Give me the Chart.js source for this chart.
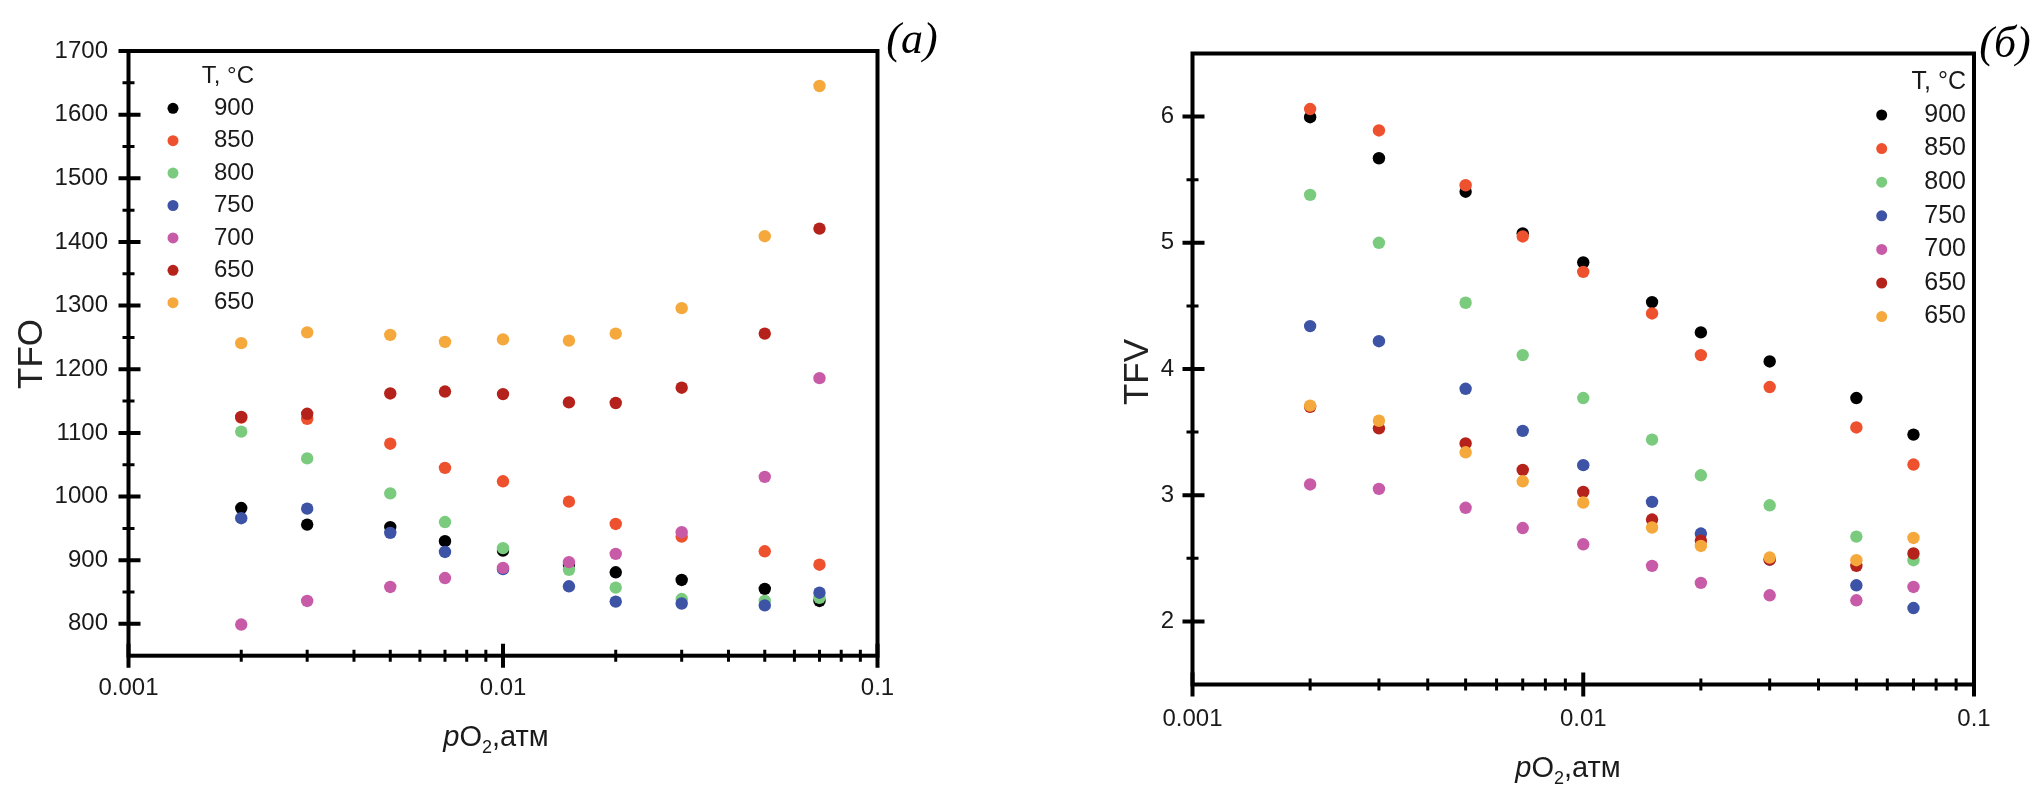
<!DOCTYPE html>
<html>
<head>
<meta charset="utf-8">
<script src="https://cdn.jsdelivr.net/npm/chart.js@4.4.1/dist/chart.umd.min.js"></script>
<style>
  html, body { margin: 0; padding: 0; background: #fff; }
  #wrap { position: relative; width: 2036px; height: 804px; }
  canvas { position: absolute; top: 0; }
  #left { left: 0; }
  #right { left: 1000px; }
</style>
</head>
<body>
<div id="wrap">
  <canvas id="left" width="1000" height="804"></canvas>
  <canvas id="right" width="1036" height="804"></canvas>
</div>
<script>
// x values, atm
const pO2 = [0.002, 0.003, 0.005, 0.007, 0.01, 0.015, 0.02, 0.03, 0.05, 0.07];
const seriesLabels = ['900', '850', '800', '750', '700', '650', '650'];
const seriesColors = ['#000000', '#ee512e', '#7bcb7f', '#3d53a6', '#c85ba8', '#b4221b', '#f5a83b'];

// (а) TFO
const tfo900 = [982, 956, 952, 930, 915, 893, 881, 869, 855, 836];
const tfo850 = [1124, 1122, 1083, 1045, 1024, 992, 957, 937, 914, 893];
const tfo800 = [1102, 1060, 1005, 960, 919, 885, 857, 839, 836, 841];
const tfo750 = [966, 981, 943, 913, 886, 859, 835, 832, 829, 849];
const tfo700 = [799, 836, 858, 872, 888, 897, 910, 944, 1031, 1186];
const tfo650 = [1125, 1130, 1162, 1165, 1161, 1148, 1147, 1171, 1256, 1421];
const tfo650b = [1241, 1258, 1254, 1243, 1247, 1245, 1256, 1296, 1409, 1645];

// (б) TFV
const tfv900 = [5.995, 5.67, 5.405, 5.075, 4.845, 4.53, 4.29, 4.06, 3.77, 3.48];
const tfv850 = [6.06, 5.89, 5.456, 5.05, 4.77, 4.44, 4.11, 3.857, 3.537, 3.243];
const tfv800 = [5.38, 5.0, 4.525, 4.11, 3.77, 3.44, 3.158, 2.92, 2.672, 2.485];
const tfv750 = [4.34, 4.22, 3.843, 3.51, 3.238, 2.947, 2.696, 2.49, 2.286, 2.106];
const tfv700 = [3.085, 3.05, 2.9, 2.74, 2.611, 2.44, 2.305, 2.207, 2.167, 2.273];
const tfv650 = [3.7, 3.53, 3.41, 3.2, 3.026, 2.807, 2.64, 2.49, 2.44, 2.538];
const tfv650b = [3.71, 3.59, 3.34, 3.11, 2.942, 2.744, 2.598, 2.506, 2.485, 2.661];

// axis ticks
const xTicks = [0.001, 0.01, 0.1];
const xMinor = [2, 3, 4, 5, 6, 7, 8, 9].flatMap(m => [m * 0.001, m * 0.01]);
const tfoTicks = [800, 900, 1000, 1100, 1200, 1300, 1400, 1500, 1600, 1700];
const tfoMinor = [850, 950, 1050, 1150, 1250, 1350, 1450, 1550, 1650];
const tfvTicks = [2, 3, 4, 5, 6];
const tfvMinor = [2.5, 3.5, 4.5, 5.5];

const SANS = '"Liberation Sans", Arial, sans-serif';
const SERIF = '"Liberation Serif", "Times New Roman", serif';

const decor = {
  id: 'decor',
  afterDraw(chart) {
    const p = chart.options.plugins.decor;
    const { ctx, chartArea: a } = chart;
    const x = chart.scales.x, y = chart.scales.y;
    ctx.save();
    ctx.strokeStyle = '#000';
    ctx.lineCap = 'butt';

    // frame
    ctx.lineWidth = 4;
    ctx.lineJoin = 'miter';
    ctx.strokeRect(a.left, a.top, a.right - a.left, a.bottom - a.top);

    // major ticks
    ctx.beginPath();
    p.yTicks.forEach(v => {
      const py = y.getPixelForValue(v);
      ctx.moveTo(a.left - 10, py); ctx.lineTo(a.left + 12, py);
    });
    xTicks.forEach(v => {
      const px = x.getPixelForValue(v);
      ctx.moveTo(px, a.bottom - 12); ctx.lineTo(px, a.bottom + 12);
    });
    ctx.stroke();

    // minor ticks
    ctx.lineWidth = 3;
    ctx.beginPath();
    p.yMinor.forEach(v => {
      const py = y.getPixelForValue(v);
      ctx.moveTo(a.left - 6, py); ctx.lineTo(a.left + 6, py);
    });
    xMinor.forEach(v => {
      const px = x.getPixelForValue(v);
      ctx.moveTo(px, a.bottom - 6); ctx.lineTo(px, a.bottom + 6);
    });
    ctx.stroke();

    // legend
    ctx.fillStyle = '#1a1a1a';
    ctx.font = p.legendFont + 'px ' + SANS;
    ctx.textAlign = 'right';
    ctx.textBaseline = 'middle';
    ctx.fillText('T, °C', p.legendTextX, p.legendTitleY);
    chart.data.datasets.forEach((ds, i) => {
      const ly = p.legendY0 + i * p.legendStep;
      ctx.fillStyle = ds.backgroundColor;
      ctx.beginPath();
      ctx.arc(p.legendMarkX, ly, 5.5, 0, Math.PI * 2);
      ctx.fill();
      ctx.fillStyle = '#1a1a1a';
      ctx.fillText(ds.label, p.legendTextX, ly);
    });

    // y title
    ctx.save();
    ctx.translate(p.yTitleX, p.yTitleY);
    ctx.rotate(-Math.PI / 2);
    ctx.textAlign = 'center';
    ctx.font = '35px ' + SANS;
    ctx.fillStyle = '#222';
    ctx.fillText(p.yTitle, 0, 0);
    ctx.restore();

    // x title: pO2,атм
    const fs = 29;
    const parts = [
      { t: 'p', f: 'italic ' + fs + 'px ' + SANS, dy: 0 },
      { t: 'O', f: fs + 'px ' + SANS, dy: 0 },
      { t: '2', f: Math.round(fs * 0.62) + 'px ' + SANS, dy: 7 },
      { t: ',атм', f: fs + 'px ' + SANS, dy: 0 }
    ];
    let total = 0;
    parts.forEach(pt => { ctx.font = pt.f; pt.w = ctx.measureText(pt.t).width; total += pt.w; });
    let cx = p.xTitleX - total / 2;
    ctx.textAlign = 'left';
    ctx.textBaseline = 'alphabetic';
    ctx.fillStyle = '#1a1a1a';
    parts.forEach(pt => {
      ctx.font = pt.f;
      ctx.fillText(pt.t, cx, p.xTitleBase + pt.dy);
      cx += pt.w;
    });

    // panel label
    ctx.font = 'italic 44px ' + SERIF;
    ctx.textAlign = 'center';
    ctx.fillStyle = '#000';
    ctx.fillText(p.panel, p.panelX, p.panelBase);
    ctx.restore();
  }
};

function makeChart(id, cfg) {
  return new Chart(document.getElementById(id), {
    type: 'scatter',
    data: {
      datasets: cfg.values.map((vals, i) => ({
        label: seriesLabels[i],
        data: pO2.map((px, j) => ({ x: px, y: vals[j] })),
        backgroundColor: seriesColors[i],
        borderWidth: 0,
        pointRadius: 6.2,
        pointHoverRadius: 6.2,
        order: seriesLabels.length - i
      }))
    },
    options: {
      responsive: false,
      animation: false,
      devicePixelRatio: 1,
      layout: { padding: cfg.padding },
      plugins: { legend: { display: false }, tooltip: { enabled: false }, decor: cfg },
      scales: {
        x: {
          type: 'logarithmic', min: 0.001, max: 0.1,
          afterBuildTicks: s => { s.ticks = xTicks.map(v => ({ value: v })); },
          afterFit: s => { s.height = cfg.xAxisH; },
          grid: { display: false, drawTicks: false },
          border: { display: false },
          ticks: {
            autoSkip: false, maxRotation: 0, padding: cfg.xPad, color: '#1a1a1a',
            font: { family: SANS, size: 24 },
            callback: v => String(v)
          }
        },
        y: {
          min: cfg.yMin, max: cfg.yMax,
          afterBuildTicks: s => { s.ticks = cfg.yTicks.map(v => ({ value: v })); },
          afterFit: s => { s.width = cfg.yAxisW; },
          grid: { display: false, drawTicks: false },
          border: { display: false },
          ticks: {
            autoSkip: false, padding: cfg.yPad, color: '#1a1a1a',
            font: { family: SANS, size: 24 },
            callback: v => String(v)
          }
        }
      }
    },
    plugins: [decor]
  });
}

makeChart('left', {
  values: [tfo900, tfo850, tfo800, tfo750, tfo700, tfo650, tfo650b],
  yMin: 750, yMax: 1700, yTicks: tfoTicks, yMinor: tfoMinor,
  padding: { left: 0, top: 51, right: 122.5, bottom: 0 },
  yAxisW: 128.5, xAxisH: 148.3, xPad: 18, yPad: 20.5,
  legendMarkX: 173, legendTextX: 254, legendTitleY: 76, legendY0: 108.3, legendStep: 32.4, legendFont: 24,
  yTitle: 'TFO', yTitleX: 32, yTitleY: 354,
  xTitleX: 496, xTitleBase: 746,
  panel: '(а)', panelX: 912, panelBase: 53
});

makeChart('right', {
  values: [tfv900, tfv850, tfv800, tfv750, tfv700, tfv650, tfv650b],
  yMin: 1.5, yMax: 6.5, yTicks: tfvTicks, yMinor: tfvMinor,
  padding: { left: 0, top: 53.5, right: 62, bottom: 0 },
  yAxisW: 192.5, xAxisH: 119.5, xPad: 20.5, yPad: 18.5,
  legendMarkX: 881.7, legendTextX: 966, legendTitleY: 82.5, legendY0: 115, legendStep: 33.6, legendFont: 25,
  yTitle: 'TFV', yTitleX: 138, yTitleY: 372,
  xTitleX: 568, xTitleBase: 777,
  panel: '(б)', panelX: 1005, panelBase: 57
});
</script>
</body>
</html>
